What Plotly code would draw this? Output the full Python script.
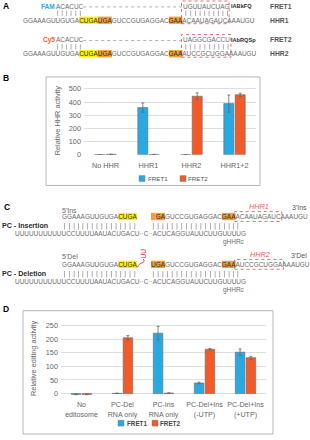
import plotly.graph_objects as go

W, H = 310, 440
FONT = "Liberation Sans, Arial, Helvetica, sans-serif"

# ---------------- data ----------------
series_names = ["FRET1", "FRET2"]
series_colors = ["#29A9E1", "#F15A29"]

b_categories = ["No HHR", "HHR1", "HHR2", "HHR1+2"]
b_fret1 = [2, 358, 2, 388]
b_fret1_err = [1, 35, 1, 65]
b_fret2 = [4, 3, 444, 455]
b_fret2_err = [1, 1, 25, 12]
b_yticks = [0, 100, 200, 300, 400, 500]

d_categories = ["No<br>editosome", "PC-Del<br>RNA only", "PC-Ins<br>RNA only",
                "PC-Del+Ins<br>(-UTP)", "PC-Del+Ins<br>(+UTP)"]
d_fret1 = [-3, 1, 222, 39, 152]
d_fret1_err = [1, 0.5, 25, 3, 12]
d_fret2 = [-3, 205, 2, 163, 132]
d_fret2_err = [1, 8, 1, 3, 5]
d_yticks = [0, 50, 100, 150, 200, 250]

probe_5 = "ACACUC"
fret1_top = "UGUUAUCUAG"
fret2_top = "UAGGCGACCU"
hhr_5 = "GGAAAGUUGUGA"
hhr_core1 = "CUGA"
hhr_core2 = "UGA"
hhr_mid = "GUCCGUGAGGAC"
hhr_core3 = "GAA"
hhr1_site = "ACAAUAGAUC"
hhr2_site = "AUCCGCUGGA"
hhr_3 = "AAAUGU"
guide_strand = "UUUUUUUUUUUCCUUUUAAUACUGACU··C··ACUCAGGUAUUCUUGUUUUG"

# ---------------- helpers ----------------
REG = dict(zip("ABCDEFGHIJKLMNOPQRSTUVWXYZ",
               [667, 667, 722, 722, 667, 611, 778, 722, 278, 500, 667, 556, 833, 722, 778, 667, 778,
                722, 667, 611, 722, 667, 944, 667, 667, 611]))
REG.update(zip("abcdefghijklmnopqrstuvwxyz",
               [556, 556, 500, 556, 556, 278, 556, 556, 222, 222, 500, 222, 833, 556, 556, 556, 556,
                333, 500, 278, 556, 500, 722, 500, 500, 500]))
REG.update({c: 556 for c in "0123456789"})
REG.update({' ': 278, "'": 191, '-': 333, '+': 584, '(': 333, ')': 333, '·': 278, '|': 260, '.': 278})


def tw(s, size):
    return sum(REG.get(c, 600) for c in s) * size / 1000.0


def px(x):
    return x / W


def py(y):
    return 1 - y / H


annotations = []
shapes = []

SEQ = 6.45
SEQ_COL = "#6a6a6a"
DARK = "#2a2a2a"
YEL = "#FFF200"
ORG = "#F6A033"
RED = "#EC5A5E"
TICK = "#8c8c8c"


def add_text(x, y, s, size=SEQ, color=SEQ_COL, bold=False, italic=False, anchor="left", angle=0):
    t = s
    if bold:
        t = "<b>" + t + "</b>"
    if italic:
        t = "<i>" + t + "</i>"
    annotations.append(dict(x=px(x), y=py(y), xref="paper", yref="paper", text=t, showarrow=False,
                            xanchor=anchor, yanchor="middle", textangle=angle,
                            font=dict(size=size, color=color, family=FONT),
                            borderpad=0, borderwidth=0))


def rect(x0, y0, x1, y1, fill=None, line_color=None, dash="solid", lw=0.8, layer="below"):
    shapes.append(dict(type="rect", xref="paper", yref="paper", x0=px(x0), x1=px(x1), y0=py(y1), y1=py(y0),
                       fillcolor=fill if fill else "rgba(0,0,0,0)",
                       line=dict(color=line_color if line_color else "rgba(0,0,0,0)",
                                 width=lw if line_color else 0, dash=dash),
                       layer=layer))


def hline(x0, x1, y, color, dash="dot", lw=0.8):
    shapes.append(dict(type="line", xref="paper", yref="paper", x0=px(x0), x1=px(x1), y0=py(y), y1=py(y),
                       line=dict(color=color, width=lw, dash=dash)))


def seq_row(x0, y, segs):
    x = x0
    html = ""
    bounds = []
    for s, bg, fg in segs:
        w = tw(s, SEQ)
        if bg:
            rect(x, y - 3.7, x + w, y + 3.7, fill=bg)
        html += '<span style="color:%s">%s</span>' % (fg, s)
        bounds.append((x, x + w))
        x += w
    add_text(x0, y, html)
    return bounds


def centers(x0, s, size=SEQ):
    out = []
    x = x0
    for c in s:
        w = REG.get(c, 600) * size / 1000.0
        out.append(x + w / 2)
        x += w
    return out


def ticks(xs, yc, half=3.0):
    d = " ".join("M%.5f,%.5f L%.5f,%.5f" % (px(x), py(yc - half), px(x), py(yc + half)) for x in xs)
    shapes.append(dict(type="path", xref="paper", yref="paper", path=d, line=dict(color=TICK, width=0.7)))


# ---------------- panel A ----------------
add_text(3, 5, "A", size=8.5, color="#000", bold=True)

for (ytop, label, lcol, top, site, q, fret, hhr) in [
        (5.5, "FAM", "#29A9E1", fret1_top, hhr1_site, "IABkFQ", "FRET1", "HHR1"),
        (39.5, "Cy5", "#F15A29", fret2_top, hhr2_site, "IAbRQSp", "FRET2", "HHR2")]:
    ybot = ytop + 14
    add_text(54.5, ytop, label, size=6.5, color=lcol, bold=True, anchor="right")
    add_text(55.5, ytop, probe_5)
    bnd = seq_row(23, ybot, [(hhr_5, None, SEQ_COL), (hhr_core1, YEL, DARK), (hhr_core2, ORG, DARK),
                             (hhr_mid, None, SEQ_COL), (hhr_core3, ORG, DARK), (site, None, SEQ_COL),
                             (hhr_3, None, SEQ_COL)])
    sx0, sx1 = bnd[5]
    hline(55.5 + tw(probe_5, SEQ) + 0.5, sx0 - 0.5, ytop + 0.5, "#9a9a9a")
    add_text(sx0 + 1, ytop, top)
    ticks(centers(55.5, probe_5) + centers(sx0 + 1, top), ytop + 7, 2.8)
    rect(sx0 - 1, ytop - 5.5, sx1 + 1.5, ybot + 3.5, line_color=RED, dash="dot", lw=0.9, layer="above")
    add_text(231, ytop, q, size=5.6, color=DARK, bold=True)
    add_text(270, ytop, fret, size=6.8, color="#555", bold=True)
    add_text(270, ybot, hhr, size=6.8, color="#555", bold=True)

# ---------------- panel C ----------------
add_text(4, 209, "C", size=8.5, color="#000", bold=True)

for (yrow, kind, site, hlab) in [(218.5, "Ins", hhr1_site, "HHR1"), (267, "Del", hhr2_site, "HHR2")]:
    add_text(62, yrow - (6.5 if kind == "Ins" else 8), "5'" + kind, size=7)
    add_text(307, yrow - (9.5 if kind == "Ins" else 8.5), "3'" + kind, size=7, color="#555", anchor="right")
    seq_row(62, yrow, [(hhr_5, None, SEQ_COL), (hhr_core1, YEL, DARK)])
    if kind == "Ins":
        segs = [(hhr_core2[0], ORG, ORG), (hhr_core2[1:], ORG, DARK)]
    else:
        segs = [(hhr_core2, ORG, DARK)]
    segs += [(hhr_mid, None, SEQ_COL), (hhr_core3, ORG, DARK), (site, None, SEQ_COL), (hhr_3, None, SEQ_COL)]
    bnd = seq_row(151, yrow, segs)
    sx0, sx1 = bnd[-2]
    rect(sx0 - 1, yrow - 5, sx1 + 1, yrow + 5, line_color=RED, dash="dot", lw=0.9, layer="above")
    add_text((sx0 + sx1) / 2 + 1, yrow - 10, hlab, size=7.3, color=RED, italic=True, anchor="center")
    ylab = yrow + 9.5
    add_text(2, ylab, "PC - " + ("Insertion" if kind == "Ins" else "Deletion"), size=7.1, color=DARK, bold=True)
    top2 = "".join(s for s, _, _ in segs)
    ticks(centers(62, hhr_5 + hhr_core1) + centers(151, top2)[:19], ylab + 0.5, 3.3)
    add_text(15, ylab + 8, guide_strand)
    add_text(245, ylab + 16.5, "gHHRc", anchor="right")

# red UU bulge on deletion
add_text(143.5, 256.5, "UU", size=6.5, color="#E0262B", angle=-90, anchor="center")
shapes.append(dict(type="path", xref="paper", yref="paper",
                   path="M%.5f,%.5f C%.5f,%.5f %.5f,%.5f %.5f,%.5f" % (
                       px(137.5), py(270), px(139), py(264), px(146), py(267), px(143.5), py(261.5)),
                   line=dict(color="#E0262B", width=0.9)))

# ---------------- panel B & D labels / frames ----------------
add_text(3, 78, "B", size=8.5, color="#000", bold=True)
add_text(3, 312, "D", size=8.5, color="#000", bold=True)
rect(46, 77, 260, 187, line_color="#a5a5a5", lw=0.8)
rect(23, 314, 273, 439, line_color="#a5a5a5", lw=0.8)

add_text(57, 121, "Relative HHR activity", size=7.4, color="#666", angle=-90, anchor="center")
add_text(33, 363, "Relative editing activity", size=7.4, color="#666", angle=-90, anchor="center")

# legends (manual)
for i, (sq_x, txt_x) in enumerate([(139, 148), (180, 188)]):
    rect(sq_x, 177, sq_x + 6, 183, fill=series_colors[i], line_color="#777", lw=0.4)
    add_text(txt_x, 180, series_names[i], size=6.2, color="#555")
for i, (sq_x, txt_x) in enumerate([(118, 126.5), (152, 160)]):
    rect(sq_x, 425, sq_x + 6, 431, fill=series_colors[i], line_color="#777", lw=0.4)
    add_text(txt_x, 428, series_names[i], size=6.3, color="#444", bold=True)

# ---------------- bars ----------------
fig = go.Figure()
for i, (vals, errs) in enumerate([(b_fret1, b_fret1_err), (b_fret2, b_fret2_err)]):
    fig.add_trace(go.Bar(x=b_categories, y=vals, name=series_names[i], xaxis="x", yaxis="y",
                         marker=dict(color=series_colors[i], line=dict(color="#6a6a6a", width=0.6)),
                         error_y=dict(type="data", array=errs, color="#666", thickness=0.8, width=1.5),
                         showlegend=False))
for i, (vals, errs) in enumerate([(d_fret1, d_fret1_err), (d_fret2, d_fret2_err)]):
    fig.add_trace(go.Bar(x=d_categories, y=vals, name=series_names[i], xaxis="x2", yaxis="y2",
                         marker=dict(color=series_colors[i], line=dict(color="#6a6a6a", width=0.6)),
                         error_y=dict(type="data", array=errs, color="#666", thickness=0.8, width=1.5),
                         showlegend=False))

axfont = dict(size=7.3, color="#666", family=FONT)
fig.update_layout(
    width=W, height=H, autosize=False,
    margin=dict(l=0, r=0, t=0, b=0),
    paper_bgcolor="white", plot_bgcolor="white",
    font=dict(family=FONT),
    barmode="group", bargap=0.47, bargroupgap=0.12,
    showlegend=False,
    xaxis=dict(domain=[84 / W, 256 / W], anchor="y", tickfont=axfont, showgrid=False, showline=False,
               ticks="", ticklabelstandoff=5, fixedrange=True),
    yaxis=dict(domain=[1 - 156 / H, 1 - 85 / H], anchor="x", range=[0, 530], tickvals=b_yticks,
               tickfont=axfont, gridcolor="#dedede", gridwidth=0.7, zeroline=False, showline=False,
               ticks="", ticklabelstandoff=2),
    xaxis2=dict(domain=[61 / W, 266 / W], anchor="y2", tickfont=dict(size=7.1, color="#666", family=FONT),
                showgrid=False, showline=False, ticks="", ticklabelstandoff=3),
    yaxis2=dict(domain=[1 - 400.8 / H, 1 - 325.7 / H], anchor="x2", range=[-10, 262], tickvals=d_yticks,
                tickfont=axfont, gridcolor="#dedede", gridwidth=0.7, zeroline=False, showline=False,
                ticks="", ticklabelstandoff=2),
    annotations=annotations,
    shapes=shapes,
)

fig.write_html("out.html")
